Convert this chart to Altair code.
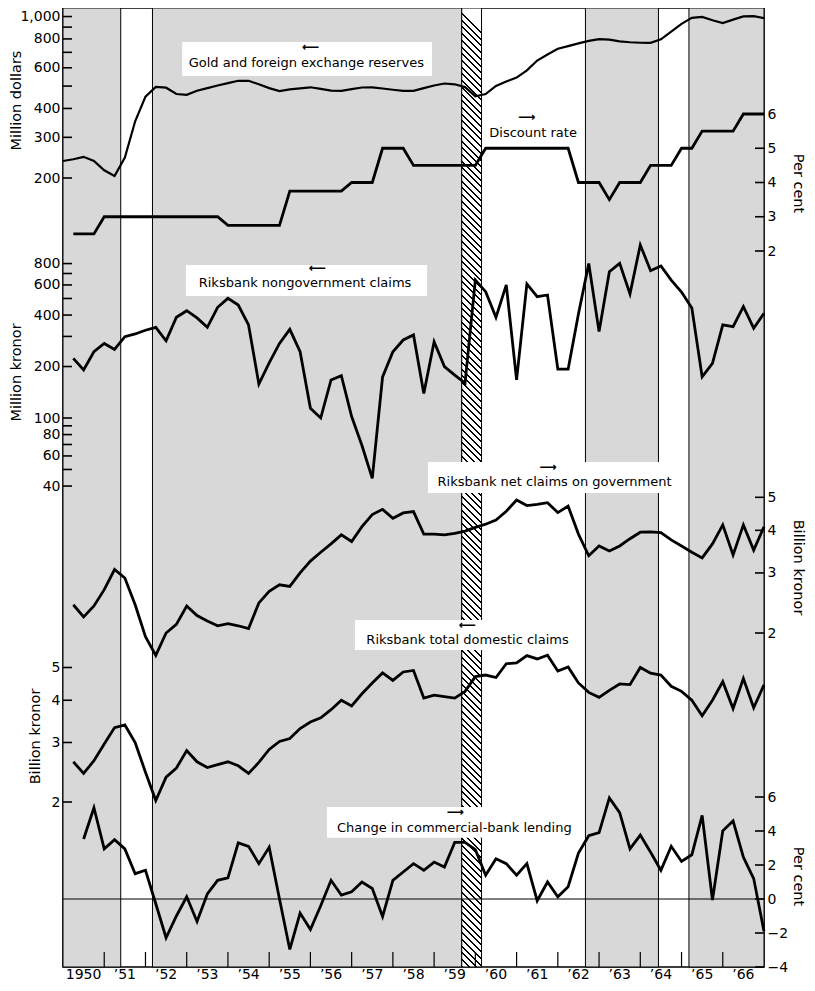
import json
import altair as alt
import pandas as pd

# ---------------- data ----------------
YEAR_TICKS = list(range(1951, 1967))
YEAR_LABEL_POS = [1950.5 + i for i in range(17)]
YEAR_LABELS = ["1950", "’51", "’52", "’53", "’54", "’55", "’56", "’57", "’58",
               "’59", "’60", "’61", "’62", "’63", "’64", "’65", "’66"]

DOTTED_START = [1950.0, 1952.17, 1962.67, 1965.18]
DOTTED_END = [1951.40, 1959.67, 1964.44, 1967.0]
HATCH_START = [1959.67]
HATCH_END = [1960.15]

GOLD_START = 1950.0
GOLD = [237, 241, 247, 237, 216, 204, 245, 352, 450, 496, 492, 462, 458, 477, 490, 503,
        515, 527, 527, 509, 490, 476, 484, 489, 494, 486, 478, 477, 485, 493, 494, 488,
        482, 477, 477, 490, 503, 513, 509, 495, 452, 462, 501, 523, 544, 585, 645, 685,
        725, 745, 765, 784, 799, 795, 781, 774, 770, 769, 797, 860, 930, 987, 996, 964,
        937, 970, 1002, 1004, 984]

DISCOUNT_START = 1950.25
DISCOUNT = [2.5, 2.5, 2.5, 3.0, 3.0, 3.0, 3.0, 3.0, 3.0, 3.0, 3.0, 3.0, 3.0, 3.0, 3.0,
            2.75, 2.75, 2.75, 2.75, 2.75, 2.75, 3.75, 3.75, 3.75, 3.75, 3.75, 3.75,
            4.0, 4.0, 4.0, 5.0, 5.0, 5.0, 4.5, 4.5, 4.5, 4.5, 4.5, 4.5, 4.5,
            5.0, 5.0, 5.0, 5.0, 5.0, 5.0, 5.0, 5.0, 5.0, 4.0, 4.0, 4.0, 3.5, 4.0, 4.0, 4.0,
            4.5, 4.5, 4.5, 5.0, 5.0, 5.5, 5.5, 5.5, 5.5, 6.0, 6.0, 6.0]

NONGOV_START = 1950.25
NONGOV = [223, 191, 244, 273, 252, 299, 310, 326, 339, 283, 388, 424, 385, 339, 444, 501,
          458, 350, 158, 210, 273, 330, 244, 114, 100, 167, 177, 102, 69, 44.4, 174, 244,
          286, 306, 139, 279, 200, 178, 160, 641, 548, 388, 600, 167, 608, 512, 524, 193,
          193, 406, 800, 320, 717, 803, 531, 1028, 727, 774, 640, 545, 440, 174, 209, 350,
          342, 448, 335, 410]

NETGOV_START = 1950.25
NETGOV = [2.42, 2.23, 2.40, 2.68, 3.07, 2.90, 2.42, 1.95, 1.72, 2.0, 2.12, 2.40, 2.25, 2.17,
          2.10, 2.13, 2.10, 2.06, 2.45, 2.65, 2.77, 2.74, 3.0, 3.25, 3.45, 3.65, 3.88, 3.71,
          4.1, 4.45, 4.61, 4.34, 4.50, 4.54, 3.90, 3.90, 3.88, 3.92, 3.98, 4.08, 4.17, 4.29,
          4.55, 4.91, 4.73, 4.77, 4.82, 4.51, 4.71, 3.9, 3.37, 3.6, 3.48, 3.6, 3.78, 3.95,
          3.96, 3.94, 3.75, 3.6, 3.45, 3.32, 3.65, 4.15, 3.39, 4.15, 3.5, 4.10]

TOTAL_START = 1950.25
TOTAL = [2.63, 2.43, 2.65, 2.97, 3.32, 3.38, 3.0, 2.45, 2.02, 2.37, 2.52, 2.84, 2.63, 2.53,
         2.58, 2.63, 2.56, 2.43, 2.62, 2.86, 3.02, 3.08, 3.30, 3.45, 3.55, 3.75, 4.0, 3.85,
         4.18, 4.50, 4.82, 4.58, 4.85, 4.9, 4.06, 4.14, 4.10, 4.06, 4.25, 4.70, 4.75, 4.67,
         5.13, 5.16, 5.42, 5.30, 5.44, 4.88, 5.02, 4.50, 4.22, 4.08, 4.28, 4.47, 4.45, 5.0,
         4.81, 4.75, 4.40, 4.25, 4.0, 3.6, 4.0, 4.54, 3.78, 4.64, 3.80, 4.44]

LENDING_START = 1950.5
LENDING = [3.53, 5.37, 2.95, 3.49, 2.95, 1.49, 1.69, -0.28, -2.28, -1.0,
           0.13, -1.32, 0.3, 1.1, 1.24, 3.3, 3.1, 2.08, 3.04, 0.0,
           -2.97, -0.83, -1.80, -0.4, 1.1, 0.23, 0.42, 1.0, 0.62, -1.03,
           1.1, 1.59, 2.08, 1.69, 2.17, 1.88, 3.33, 3.33, 2.9, 1.40,
           2.37, 2.08, 1.40, 2.08, -0.1, 1.0, 0.13, 0.72, 2.7, 3.72,
           3.91, 5.95, 5.08, 2.95, 3.76, 2.75, 1.69, 3.1, 2.21, 2.60,
           4.92, -0.06, 4.01, 4.59, 2.46, 1.2, -1.9]

GOLD_TICKS = [200, 300, 400, 500, 600, 700, 800, 900, 1000]
GOLD_LABELED = [200, 300, 400, 600, 800, 1000]
DISCOUNT_TICKS = [2, 3, 4, 5, 6]
NONGOV_TICKS = [40, 50, 60, 70, 80, 90, 100, 200, 300, 400, 500, 600, 700, 800]
NONGOV_LABELED = [40, 60, 80, 100, 200, 400, 600, 800]
KRONOR_TICKS = [2, 3, 4, 5]
LENDING_TICKS = [-4, -2, 0, 2, 4, 6]

# ---------------- layout ----------------
FONT = "DejaVu Sans"
W, H = 701, 959
PAD_L, PAD_T, PAD_R, PAD_B = 55, 0, 42, 15
X0, Y0 = 8 + PAD_L, 8 + PAD_T
YB = Y0 + H
PX_PER_YEAR = W / 17.0
TICK = 9          # length of the inward ticks on the value axes
XTICK = 15        # length of the inward year ticks

xs = alt.Scale(domain=[1950, 1967], nice=False, zero=False)


def log_scale(v_ref, y_ref, px_per_decade):
    lo = v_ref * 10 ** ((y_ref - YB) / px_per_decade)
    hi = v_ref * 10 ** ((y_ref - Y0) / px_per_decade)
    return alt.Scale(type="log", domain=[lo, hi], nice=False)


def lin_scale(v_ref, y_ref, px_per_unit):
    lo = v_ref - (YB - y_ref) / px_per_unit
    hi = v_ref + (y_ref - Y0) / px_per_unit
    return alt.Scale(type="linear", domain=[lo, hi], nice=False, zero=False)


S_GOLD = log_scale(200, 178, 231)
S_DISC = lin_scale(2, 251, 34.25)
S_NONGOV = log_scale(100, 418, 171)
S_NETGOV = log_scale(2, 633, 341)
S_TOTAL = log_scale(2, 802, 338)
S_LEND = lin_scale(0, 899, 17.0)


def lab_expr(labeled, fmt):
    return ("indexof(" + json.dumps(labeled) + ", datum.value) >= 0 ? format(datum.value, '"
            + fmt + "') : ''")


def y_axis(orient, ticks, labeled, fmt, title, title_px, title_py):
    if orient == "left":
        gx, angle = X0, -90
    else:
        gx, angle = X0 + W, 90
    return alt.Axis(orient=orient, values=ticks, labelExpr=lab_expr(labeled, fmt),
                    ticks=False, domain=False, grid=False,
                    labelPadding=3, labelOverlap=False, labelFontSize=14,
                    title=title, titleX=title_px - gx, titleY=title_py - Y0,
                    titleAngle=angle, titleAlign="center", titleBaseline="middle",
                    titleFontSize=14.5, titleFontWeight="normal")


def tick_layer(ticks, scale, orient):
    df = pd.DataFrame({"v": ticks})
    if orient == "left":
        xa, xb = alt.value(0), alt.value(TICK)
    else:
        xa, xb = alt.value(W - TICK), alt.value(W)
    return alt.Chart(df).mark_rule(color="black", strokeWidth=1.6).encode(
        y=alt.Y("v:Q", scale=scale, axis=None), x=xa, x2=xb)


# ---------------- layers ----------------
bands = pd.DataFrame({"start": DOTTED_START, "end": DOTTED_END})
band_layer = alt.Chart(bands).mark_rect(fill="#d8d8d8", stroke="black", strokeWidth=1).encode(
    x=alt.X("start:Q", scale=xs, axis=None), x2="end:Q")

hatch_w = (HATCH_END[0] - HATCH_START[0]) * PX_PER_YEAR
n_str = int(round(H / 6.7))
stops = []
for i in range(n_str):
    a0, a1, a2 = i / n_str, (i + 0.3) / n_str, (i + 1) / n_str
    stops += [{"offset": a0, "color": "black"}, {"offset": a1, "color": "black"},
              {"offset": a1, "color": "white"}, {"offset": a2, "color": "white"}]
hatch_fill = {"gradient": "linear", "x1": 0, "y1": 1, "x2": hatch_w / H, "y2": 0, "stops": stops}
hatch = pd.DataFrame({"start": HATCH_START, "end": HATCH_END})
hatch_layer = alt.Chart(hatch).mark_rect(fill=hatch_fill, stroke="black", strokeWidth=1).encode(
    x=alt.X("start:Q", scale=xs, axis=None), x2="end:Q")


def box_layer(x0, x1, y0, y1, scale):
    df = pd.DataFrame({"x0": [x0], "x1": [x1], "y0": [y0], "y1": [y1]})
    return alt.Chart(df).mark_rect(fill="white", strokeWidth=0).encode(
        x=alt.X("x0:Q", scale=xs, axis=None), x2="x1:Q",
        y=alt.Y("y0:Q", scale=scale, axis=None), y2="y1:Q")


def text_layer(text, x, y, scale, size=13, weight="normal"):
    df = pd.DataFrame({"x": [x], "y": [y], "label": [text]})
    return alt.Chart(df).mark_text(font=FONT, fontSize=size, color="black", fontWeight=weight,
                                   align="center", baseline="middle").encode(
        x=alt.X("x:Q", scale=xs, axis=None), y=alt.Y("y:Q", scale=scale, axis=None),
        text="label:N")


def line_layer(start, values, scale, axis, width=2.8):
    df = pd.DataFrame({"t": [start + 0.25 * i for i in range(len(values))], "v": values})
    return alt.Chart(df).mark_line(color="black", strokeWidth=width).encode(
        x=alt.X("t:Q", scale=xs, axis=None), y=alt.Y("v:Q", scale=scale, axis=axis))


boxes = [
    box_layer(1952.89, 1958.95, 553, 776, S_GOLD),
    box_layer(1952.98, 1958.83, 517, 785, S_NONGOV),
    box_layer(1958.85, 1965.06, 5.15, 6.35, S_NETGOV),
    box_layer(1957.08, 1962.61, 5.63, 6.91, S_TOTAL),
    box_layer(1956.40, 1962.61, 3.60, 5.41, S_LEND),
]

zero_df = pd.DataFrame({"v": [0]})
zero_layer = alt.Chart(zero_df).mark_rule(color="black", strokeWidth=1).encode(
    y=alt.Y("v:Q", scale=S_LEND, axis=None))

# year axis: inward ticks at year boundaries, labels centred on each year
xtick_df = pd.DataFrame({"t": YEAR_TICKS})
xtick_layer = alt.Chart(xtick_df).mark_rule(color="black", strokeWidth=1.2).encode(
    x=alt.X("t:Q", scale=xs, axis=None), y=alt.value(H - XTICK), y2=alt.value(H))
xlab_df = pd.DataFrame({"t": YEAR_LABEL_POS, "label": YEAR_LABELS})
xlab_layer = alt.Chart(xlab_df).mark_text(font=FONT, fontSize=14, color="black",
                                          align="center", baseline="top").encode(
    x=alt.X("t:Q", scale=xs, axis=None), y=alt.value(H + 1), text="label:N")

ticks = [
    tick_layer(GOLD_TICKS, S_GOLD, "left"),
    tick_layer(DISCOUNT_TICKS, S_DISC, "right"),
    tick_layer(NONGOV_TICKS, S_NONGOV, "left"),
    tick_layer(KRONOR_TICKS, S_NETGOV, "right"),
    tick_layer(KRONOR_TICKS, S_TOTAL, "left"),
    tick_layer(LENDING_TICKS, S_LEND, "right"),
]

lines = [
    line_layer(GOLD_START, GOLD, S_GOLD,
               y_axis("left", GOLD_TICKS, GOLD_LABELED, ",", "Million dollars", 16, 100), 2.2),
    line_layer(DISCOUNT_START, DISCOUNT, S_DISC,
               y_axis("right", DISCOUNT_TICKS, DISCOUNT_TICKS, ",", "Per cent", 797, 183)),
    line_layer(NONGOV_START, NONGOV, S_NONGOV,
               y_axis("left", NONGOV_TICKS, NONGOV_LABELED, ",", "Million kronor", 16, 372)),
    line_layer(NETGOV_START, NETGOV, S_NETGOV,
               y_axis("right", KRONOR_TICKS, KRONOR_TICKS, ",", "Billion kronor", 797, 567)),
    line_layer(TOTAL_START, TOTAL, S_TOTAL,
               y_axis("left", KRONOR_TICKS, KRONOR_TICKS, ",", "Billion kronor", 35, 736)),
    line_layer(LENDING_START, LENDING, S_LEND,
               y_axis("right", LENDING_TICKS, LENDING_TICKS, "d", "Per cent", 797, 876)),
]

texts = [
    text_layer("Gold and foreign exchange reserves", 1955.90, 629, S_GOLD),
    text_layer("⟵", 1956.0, 735, S_GOLD, 12, "bold"),
    text_layer("Discount rate", 1961.40, 5.445, S_DISC),
    text_layer("⟶", 1961.24, 5.9, S_DISC, 12, "bold"),
    text_layer("Riksbank nongovernment claims", 1955.87, 615, S_NONGOV),
    text_layer("⟵", 1956.16, 755, S_NONGOV, 12, "bold"),
    text_layer("Riksbank net claims on government", 1961.92, 5.544, S_NETGOV),
    text_layer("⟶", 1961.76, 6.15, S_NETGOV, 12, "bold"),
    text_layer("Riksbank total domestic claims", 1959.81, 6.03, S_TOTAL),
    text_layer("⟵", 1959.80, 6.70, S_TOTAL, 12, "bold"),
    text_layer("Change in commercial-bank lending", 1959.49, 4.19, S_LEND),
    text_layer("⟶", 1959.51, 5.10, S_LEND, 12, "bold"),
]

chart = alt.layer(band_layer, hatch_layer, *boxes, zero_layer, xtick_layer, *ticks,
                  *lines, *texts, xlab_layer).resolve_scale(
    y="independent"
).properties(
    width=W, height=H,
    autosize=alt.AutoSizeParams(type="none"),
    padding={"left": PAD_L, "top": PAD_T, "right": PAD_R, "bottom": PAD_B},
).configure_view(
    stroke="black", strokeWidth=1.6
).configure_axis(
    labelFont=FONT, titleFont=FONT, labelColor="black", titleColor="black"
)

chart.save("out.html", embed_options={"renderer": "svg", "actions": False})
